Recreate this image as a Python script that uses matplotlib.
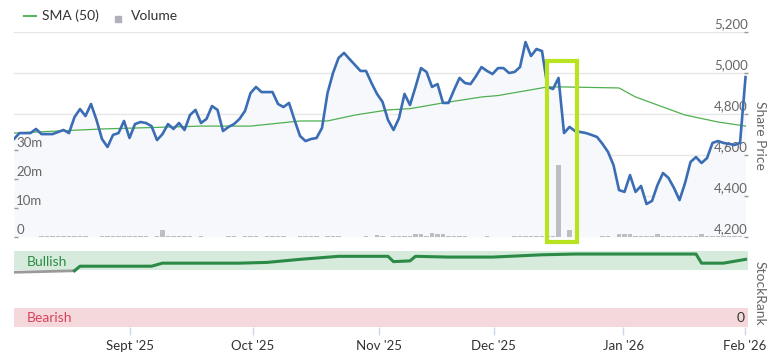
import matplotlib
matplotlib.use('Agg')
import matplotlib.pyplot as plt
import matplotlib.transforms as mtransforms
from matplotlib.patches import Rectangle
from matplotlib.lines import Line2D
import numpy as np

plt.rcParams['font.family'] = ['Lato', 'DejaVu Sans']

# ---------------- data (trading-day index axis) ----------------
price = [4678, 4707, 4707, 4707, 4727, 4702, 4702, 4702, 4712, 4722,
         4707, 4785, 4824, 4790, 4849, 4771, 4678, 4639, 4698, 4707,
         4766, 4683, 4751, 4761, 4756, 4741, 4673, 4702, 4751, 4727,
         4756, 4722, 4795, 4820, 4756, 4776, 4839, 4820, 4717, 4737,
         4751, 4776, 4815, 4902, 4932, 4907, 4907, 4907, 4849, 4834,
         4854, 4771, 4693, 4668, 4678, 4683, 4732, 4902, 5000, 5073,
         5098, 5068, 5039, 5010, 5010, 4951, 4898, 4859, 4771, 4722,
         4780, 4898, 4844, 4932, 5024, 5005, 4932, 4946, 4854, 4854,
         4917, 4976, 4951, 4946, 4985, 5029, 5010, 4995, 5024, 5024,
         5000, 5005, 5029, 5151, 5083, 5117, 5107, 4932, 4922, 4976,
         4707, 4737, 4717, 4712, 4707, 4698, 4688, 4654, 4615, 4551,
         4429, 4420, 4502, 4420, 4449, 4361, 4376, 4454, 4512, 4488,
         4439, 4380, 4463, 4566, 4590, 4561, 4585, 4659, 4668, 4659,
         4654, 4649, 4659, 4980]

volume_m = [0, 0, 0, 0, 0, .35, .35, .35, .35, .35,
            .35, .35, .35, .35, 0, 0, .35, .35, .35, .35,
            .35, .35, .35, .35, .35, 0, .35, 2.3, .35, .35,
            .35, .35, .35, 0, .35, 0, 0, 0, 0, .35,
            .35, 0, .35, .35, .35, 0, .35, .35, .35, .35,
            0, 0, .35, .35, .35, .35, 0, .35, .35, .35,
            0, 0, 0, 0, .35, 0, .8, .35, 0, .35,
            .35, .35, .35, .9, .9, .5, 1.3, .9, .9, .35,
            .35, .35, .35, 0, 0, 0, .35, 0, 0, 0,
            0, .35, .35, .35, .35, .35, .35, .35, .35, 24.8,
            0, 2.4, 0, 0, 0, 0, 0, .35, .35, 0,
            .9, .9, .9, .35, .35, .35, .35, .9, .35, .35,
            .35, .35, .35, .35, .35, .9, .35, .35, .35, .35,
            .35, .35, .35, 0]

sma_days = [0, 16, 34, 43, 52, 57, 62, 68, 72, 78, 85, 88, 97, 100, 110, 113, 118, 122, 128, 133]
sma_vals = [4707, 4727, 4741, 4741, 4766, 4766, 4795, 4820, 4826, 4854, 4883, 4890,
            4932, 4932, 4927, 4883, 4834, 4795, 4761, 4741]

rank_pre_days = [0, 11]
rank_pre_vals = [72, 74]
rank_days = [11, 12, 25, 27, 41, 46, 52, 59, 68, 69, 72, 73, 79, 87, 96, 102, 124, 125, 129, 133]
rank_vals = [74, 80, 80, 84, 84, 85, 89, 93, 93, 86, 87, 93, 92, 92, 95, 96, 96, 84, 84, 89]

month_pos = [21.1, 43.4, 66.4, 87.2, 110.8, 132.9]
month_labels = ["Sept '25", "Oct '25", "Nov '25", "Dec '25", "Jan '26", "Feb '26"]

price_ticks = [4200, 4400, 4600, 4800, 5000, 5200]
vol_ticks = [0, 10, 20, 30]
vol_labels = ['0', '10m', '20m', '30m']

highlight_days = (96.9, 102.45)
highlight_price = (4176, 5057)

days = np.arange(len(price))
assert len(volume_m) == len(price)

# ---------------- layout ----------------
W, H = 772, 352
fig = plt.figure(figsize=(W / 100, H / 100), dpi=100)


def rect(l, t, r, b):
    return [l / W, 1 - b / H, (r - l) / W, (b - t) / H]


XMAX = 133.45
ax = fig.add_axes(rect(14, 32, 748, 237))
ax.set_xlim(0, XMAX)
ax.set_ylim(4200, 5200)
for s in ax.spines.values():
    s.set_visible(False)
ax.set_xticks([])
ax.set_yticks([])
for v in price_ticks:
    ax.axhline(v, color='#e6e6e6', lw=1, zorder=0)
ax.fill_between(days, price, 4200, color='#f6f8fc', lw=0, zorder=1)

# volume
axv = ax.twinx()
axv.set_xlim(0, XMAX)
axv.set_ylim(0, 70.7)
axv.patch.set_visible(False)
for s in axv.spines.values():
    s.set_visible(False)
axv.bar(days, volume_m, width=0.8, color='#bdbdc4', zorder=2)
axv.yaxis.set_ticks_position('left')
axv.set_yticks(vol_ticks)
axv.tick_params(axis='y', direction='in', length=3, width=1, color='#999999',
                labelleft=False, labelright=False)
up = mtransforms.ScaledTranslation(0, 1.5 / 100, fig.dpi_scale_trans)
bt = mtransforms.blended_transform_factory(axv.transAxes, axv.transData)
for v, lab in zip(vol_ticks, vol_labels):
    axv.text(0.003, v, lab, transform=bt + up, ha='left', va='bottom',
             fontsize=9.5, color='#666666', zorder=1)

# price line
axp = ax.twinx()
axp.set_xlim(0, XMAX)
axp.set_ylim(4200, 5200)
axp.patch.set_visible(False)
for s in axp.spines.values():
    s.set_visible(False)
axp.set_yticks(price_ticks)
axp.tick_params(axis='y', direction='in', length=3, width=1, color='#999999',
                labelright=False, labelleft=False)
bt2 = mtransforms.blended_transform_factory(axp.transAxes, axp.transData)
for v in price_ticks:
    axp.text(1.0, v, f'{v:,}', transform=bt2 + up, ha='right', va='bottom',
             fontsize=9.5, color='#666666', zorder=1)
axp.plot(sma_days, sma_vals, color='#4fb04f', lw=0.9, zorder=3)
axp.plot(days, price, color='#3b6db4', lw=1.9, zorder=4, solid_joinstyle='round')

axp.add_patch(Rectangle((highlight_days[0], highlight_price[0]),
                        highlight_days[1] - highlight_days[0],
                        highlight_price[1] - highlight_price[0],
                        fill=False, edgecolor='#b7e41e', lw=3, clip_on=False, zorder=10))

axp.text(1.016, 0.493, 'Share Price', transform=axp.transAxes, rotation=-90,
         ha='center', va='center', fontsize=10, color='#666666')

# legend
fig.add_artist(Line2D([24 / W, 36 / W], [1 - 16 / H, 1 - 16 / H], color='#5cb85c', lw=1.5))
fig.text(42 / W, 1 - 16 / H, 'SMA (50)', va='center', ha='left', fontsize=10, color='#333333')
fig.add_artist(Rectangle((115 / W, 1 - 22 / H), 6 / W, 6 / H, color='#b0b0b8'))
fig.text(131 / W, 1 - 16 / H, 'Volume', va='center', ha='left', fontsize=10, color='#333333')

# StockRank panel
axr = fig.add_axes(rect(14, 251, 748, 327))
axr.set_xlim(0, XMAX)
axr.set_ylim(0, 100)
for s in axr.spines.values():
    s.set_visible(False)
axr.axhspan(75, 100, color='#d6ebdc', lw=0, zorder=0)
axr.axhspan(0, 25, color='#f5d8dc', lw=0, zorder=0)
axr.plot(rank_pre_days, rank_pre_vals, color='#9a9a9a', lw=2, zorder=2)
axr.plot(rank_days, rank_vals, color='#2b8a46', lw=2.2, zorder=3)
axr.set_yticks([])
axr.set_xticks(month_pos)
axr.set_xticklabels(month_labels)
axr.tick_params(axis='x', length=6, width=1, color='#ccd6eb', labelcolor='#333333',
                labelsize=9.5, pad=3)
brt = mtransforms.blended_transform_factory(axr.transAxes, axr.transData)
axr.text(0.018, 85, 'Bullish', transform=brt, ha='left', va='center', fontsize=10, color='#2e8b48')
axr.text(0.018, 12, 'Bearish', transform=brt, ha='left', va='center', fontsize=10, color='#d8435b')
axr.text(0.996, 12, '0', transform=brt, ha='right', va='center', fontsize=10, color='#333333')
axr.text(1.016, 0.447, 'StockRank', transform=axr.transAxes, rotation=-90,
         ha='center', va='center', fontsize=10, color='#666666')

fig.savefig('out.png', dpi=100)
